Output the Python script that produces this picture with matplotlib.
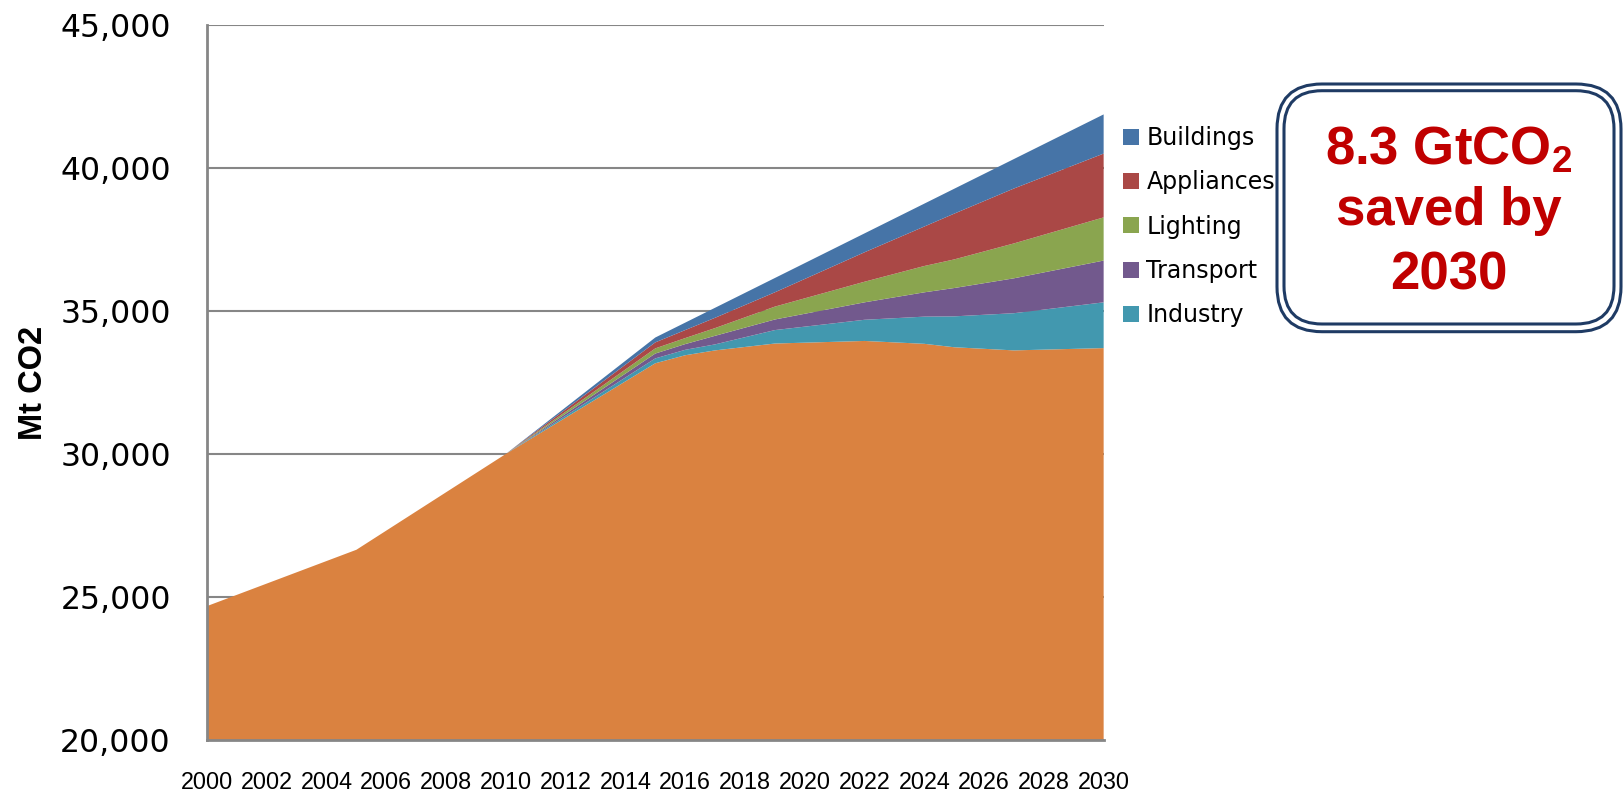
import numpy as np
import matplotlib
matplotlib.use("Agg")
from matplotlib import pyplot as plt
from matplotlib.patches import FancyBboxPatch

plt.rcParams['mathtext.default'] = 'regular'

years = [2000, 2005, 2010, 2015, 2016, 2017, 2019, 2022, 2024, 2025, 2027, 2030]
# emissions remaining once all measures are in place (Mt CO2)
emissions = [24680, 26650, 30000, 33170, 33450, 33620, 33860, 33950, 33850, 33730, 33620, 33700]
# savings by sector, stacked on top of the remaining emissions (Mt CO2)
industry = [0, 0, 0, 170, 190, 210, 470, 740, 950, 1080, 1300, 1600]
transport = [0, 0, 0, 170, 200, 300, 370, 610, 850, 990, 1220, 1460]
lighting = [0, 0, 0, 180, 210, 270, 450, 720, 920, 1000, 1220, 1510]
appliances = [0, 0, 0, 210, 280, 360, 500, 1030, 1380, 1600, 1920, 2230]
buildings = [0, 0, 0, 170, 260, 350, 500, 660, 800, 870, 1030, 1370]

sectors = ["Emissions", "Industry", "Transport", "Lighting", "Appliances", "Buildings"]
colors = ["#DA8240", "#4298AF", "#72598D", "#8AA54F", "#AA4846", "#4674A7"]

fig = plt.figure(figsize=(16.23, 7.94), dpi=100)
ax = fig.add_axes([0.1275, 0.068, 0.5525, 0.9007])

polys = ax.stackplot(years, emissions, industry, transport, lighting, appliances, buildings,
                     colors=colors, labels=sectors, linewidth=0)

ax.set_xlim(2000, 2030)
ax.set_ylim(20000, 45000)
ax.set_xticks(np.arange(2000, 2031, 2))
ax.set_yticks(np.arange(20000, 45001, 5000))
ax.set_yticklabels(["{:,}".format(v) for v in range(20000, 45001, 5000)],
                   fontsize=22.7, family="DejaVu Sans")
for lab in ax.get_xticklabels():
    lab.set_fontsize(16.8)
    lab.set_family("Liberation Sans")
ax.tick_params(axis="y", length=0, pad=26)
ax.tick_params(axis="x", length=0, pad=22)

ax.set_axisbelow(True)
ax.yaxis.grid(True, color="#868686", linewidth=1.5)
for side in ["top", "right"]:
    ax.spines[side].set_visible(False)
for side in ["left", "bottom"]:
    ax.spines[side].set_color("#868686")
    ax.spines[side].set_linewidth(2)

fig.text(33 / 1623, 0.5176, "Mt CO2", rotation=90, ha="center", va="center",
         fontsize=23.5, fontweight="bold", family="Liberation Sans")

# legend: sectors only, top of the stack first
fig.legend(handles=polys[:0:-1], labels=sectors[:0:-1], loc="upper left",
           bbox_to_anchor=(1123 / 1623, 1 - 126 / 794), frameon=False,
           prop={"family": "DejaVu Sans", "size": 17},
           handlelength=0.68, handleheight=0.68, handletextpad=0.31,
           labelspacing=0.86, borderpad=0, borderaxespad=0)

# callout box with double rounded border
tr = fig.dpi_scale_trans
outer = FancyBboxPatch((12.77, 4.623), 3.44, 2.477,
                       boxstyle="round,pad=0,rounding_size=0.45",
                       transform=tr, facecolor="white", edgecolor="#1F3B64", linewidth=2.2)
inner = FancyBboxPatch((12.84, 4.70), 3.30, 2.333,
                       boxstyle="round,pad=0,rounding_size=0.38",
                       transform=tr, facecolor="white", edgecolor="#1F3B64", linewidth=2.2)
fig.patches.extend([outer, inner])

box_font = dict(transform=tr, ha="center", va="baseline", color="#C00000",
                fontsize=38, fontweight="bold", family="Liberation Sans")
fig.text(14.49, 6.29, "8.3 GtCO$_2$", **box_font)
fig.text(14.49, 5.69, "saved by", **box_font)
fig.text(14.49, 5.04, "2030", **box_font)

fig.savefig("out.png", dpi=100, facecolor="white")
